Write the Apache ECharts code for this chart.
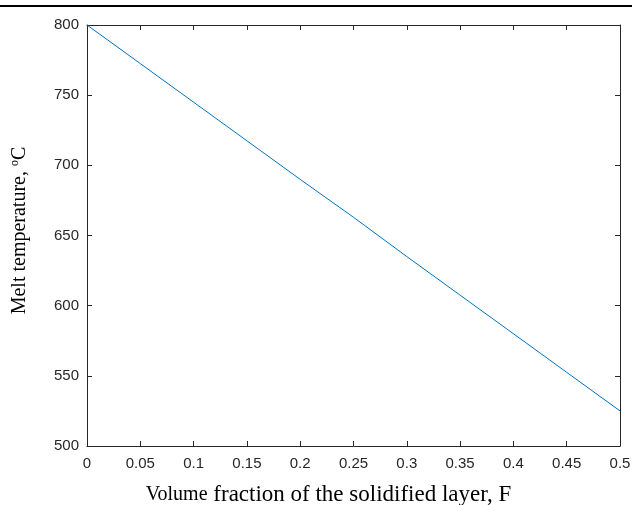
<!DOCTYPE html>
<html>
<head>
<meta charset="utf-8">
<script src="https://cdn.jsdelivr.net/npm/echarts@6/dist/echarts.min.js"></script>
<style>html,body{margin:0;padding:0;background:#fff}#c{width:632px;height:505px}</style>
</head>
<body>
<div id="c"></div>
<script>
var fraction = [0, 0.05, 0.1, 0.15, 0.2, 0.25, 0.3, 0.35, 0.4, 0.45, 0.5];
var meltTemp = [800, 772.5, 745, 717.5, 690, 663, 635, 607.5, 580, 552.5, 525];
var xTicks = {min: 0, max: 0.5, interval: 0.05};
var yTicks = {min: 500, max: 800, interval: 50};

var chart = echarts.init(document.getElementById('c'));
var axisCol = '#262626';
var tickFont = {color: axisCol, fontFamily: 'Liberation Sans, Arial', fontSize: 15};
function xAx(pos, show) {
  return {
    type: 'value', position: pos, min: xTicks.min, max: xTicks.max, interval: xTicks.interval,
    axisLine: {show: true, onZero: false, lineStyle: {color: axisCol, width: 1}},
    axisTick: {show: true, inside: true, length: 5, lineStyle: {color: axisCol}},
    splitLine: {show: false},
    axisLabel: Object.assign({show: show, margin: 10, formatter: function (v) { return String(+v.toFixed(2)); }}, tickFont)
  };
}
function yAx(pos, show) {
  return {
    type: 'value', position: pos, min: yTicks.min, max: yTicks.max, interval: yTicks.interval,
    axisLine: {show: true, onZero: false, lineStyle: {color: axisCol, width: 1}},
    axisTick: {show: true, inside: true, length: 5, lineStyle: {color: axisCol}},
    splitLine: {show: false},
    axisLabel: Object.assign({show: show, margin: 8}, tickFont)
  };
}
var xb = xAx('bottom', true);
xb.name = '{s|Volume} fraction of the solidified layer, F';
xb.nameLocation = 'middle';
xb.nameGap = 37;
xb.nameTextStyle = {color: '#000', fontFamily: 'Liberation Serif, Times New Roman', fontSize: 23,
  padding: [0, 50, 0, 0],
  rich: {s: {fontFamily: 'Liberation Serif, Times New Roman', fontSize: 20, color: '#000'}}};
var yl = yAx('left', true);
yl.name = 'Melt temperature, {sup|o}C';
yl.nameLocation = 'middle';
yl.nameGap = 57;
yl.nameTextStyle = {color: '#000', fontFamily: 'Liberation Serif, Times New Roman', fontSize: 20,
  padding: [0, 0, 0, 10],
  rich: {sup: {fontFamily: 'Liberation Serif, Times New Roman', fontSize: 12, color: '#000', verticalAlign: 'top', padding: [0, 0, 9, 0]}}};

chart.setOption({
  animation: false,
  backgroundColor: '#fff',
  grid: {left: 87, right: 12, top: 25, bottom: 59, containLabel: false, outerBoundsMode: 'none'},
  xAxis: [xb, xAx('top', false)],
  yAxis: [yl, yAx('right', false)],
  graphic: [{type: 'rect', shape: {x: 0, y: 5, width: 632, height: 2}, style: {fill: '#000'}}],
  series: [{
    type: 'line', xAxisIndex: 0, yAxisIndex: 0, symbol: 'none',
    lineStyle: {color: '#0072BD', width: 1},
    data: fraction.map(function (f, i) { return [f, meltTemp[i]]; })
  }]
});
</script>
</body>
</html>
